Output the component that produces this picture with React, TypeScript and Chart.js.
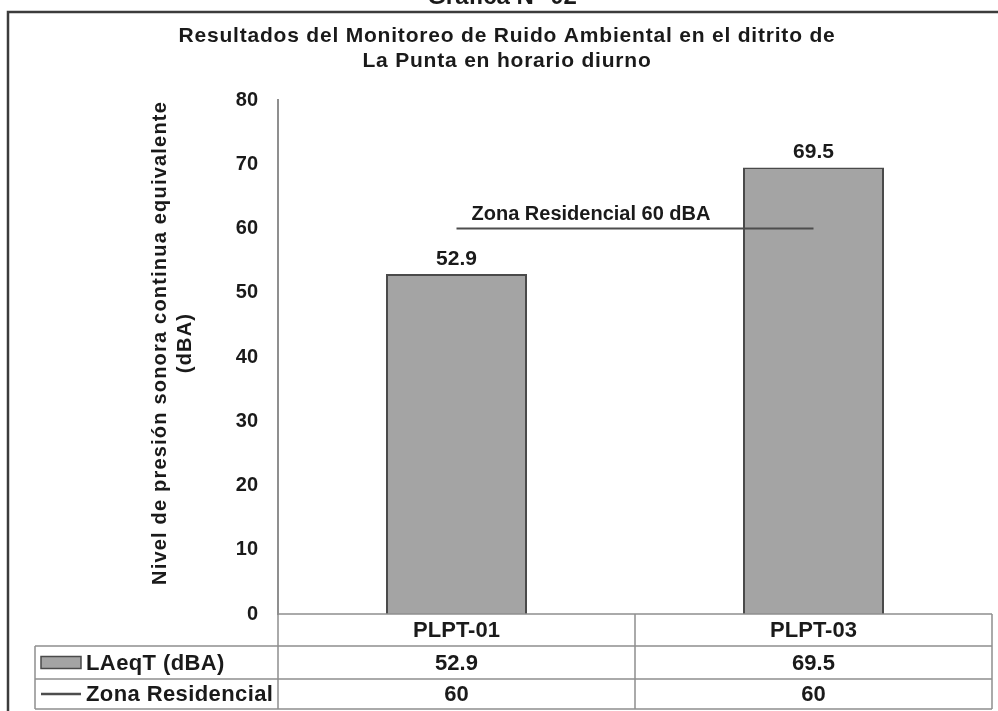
import React, { useEffect, useRef } from 'react';
import { Chart, registerables } from 'chart.js';

Chart.register(...registerables);

const categories = ['PLPT-01', 'PLPT-03'];
const laeqValues = [52.9, 69.5];
const limitValues = [60, 60];
const seriesNames = ['LAeqT (dBA)', 'Zona Residencial'];
const titleLines = ['Resultados del Monitoreo de Ruido Ambiental en el ditrito de', 'La Punta en horario diurno'];
const yTitleLines = ['Nivel de presión sonora continua equivalente', '(dBA)'];
const figureCaption = 'Gráfica N° 02';
const limitCaption = 'Zona Residencial 60 dBA';
const yMin = 0;
const yMax = 80;
const yStep = 10;

const FONT = '"Liberation Sans", Arial, Helvetica, sans-serif';
const BAR_FILL = '#a4a4a4';
const BAR_EDGE = '#4a4a4a';
const LINE_COLOR = '#4d4d4d';
const GRID_COLOR = '#8f8f8f';
const TEXT = '#1a1a1a';

const setSpacing = (ctx: any, px: number) => {
  if ('letterSpacing' in ctx) ctx.letterSpacing = `${px}px`;
};

const overlayPlugin = {
  id: 'overlay',
  afterDatasetsDraw(chart: any) {
    const { ctx, chartArea, scales } = chart;
    const xs = scales.x;
    ctx.save();

    // outer frame
    ctx.strokeStyle = '#3c3c3c';
    ctx.lineWidth = 2.5;
    ctx.beginPath();
    ctx.moveTo(8, 711);
    ctx.lineTo(8, 12);
    ctx.lineTo(998, 12);
    ctx.stroke();

    // figure caption (cut at top)
    ctx.fillStyle = TEXT;
    ctx.textAlign = 'center';
    ctx.textBaseline = 'alphabetic';
    ctx.font = `bold 24px ${FONT}`;
    ctx.fillText(figureCaption, 502, 4);

    // title
    ctx.font = `bold 21px ${FONT}`;
    setSpacing(ctx, 0.8);
    ctx.textBaseline = 'middle';
    titleLines.forEach((t, i) => ctx.fillText(t, 507, 36 + i * 25));

    // y axis title
    ctx.save();
    ctx.translate(160, 343);
    ctx.rotate(-Math.PI / 2);
    ctx.font = `bold 20px ${FONT}`;
    setSpacing(ctx, 1.2);
    yTitleLines.forEach((t, i) => ctx.fillText(t, 0, i * 25));
    ctx.restore();

    // data labels
    setSpacing(ctx, 0);
    const barMeta = chart.getDatasetMeta(0);
    ctx.font = `bold 21px ${FONT}`;
    ctx.textBaseline = 'alphabetic';
    barMeta.data.forEach((bar: any, i: number) => {
      ctx.fillText(laeqValues[i].toFixed(1), bar.x, bar.y - 9);
    });

    // limit line caption
    const lineMeta = chart.getDatasetMeta(1);
    const p0 = lineMeta.data[0];
    ctx.font = `bold 20px ${FONT}`;
    ctx.textAlign = 'left';
    ctx.fillText(limitCaption, p0.x + 15, p0.y - 9);

    // data table
    const top = chartArea.bottom;
    const rows = [top, top + 32, top + 65, top + 95];
    const tableLeft = 35;
    const right = chartArea.right;
    const n = categories.length;
    const colW = (chartArea.right - chartArea.left) / n;
    ctx.strokeStyle = GRID_COLOR;
    ctx.lineWidth = 1.5;
    ctx.beginPath();
    ctx.moveTo(chartArea.left, rows[0]);
    ctx.lineTo(right, rows[0]);
    for (let r = 1; r < rows.length; r++) {
      ctx.moveTo(tableLeft, rows[r]);
      ctx.lineTo(right, rows[r]);
    }
    ctx.moveTo(tableLeft, rows[1]);
    ctx.lineTo(tableLeft, rows[3]);
    for (let c = 0; c <= n; c++) {
      const xx = chartArea.left + c * colW;
      ctx.moveTo(xx, rows[0]);
      ctx.lineTo(xx, rows[3]);
    }
    ctx.stroke();

    ctx.fillStyle = TEXT;
    ctx.textAlign = 'center';
    ctx.textBaseline = 'middle';
    ctx.font = `bold 22px ${FONT}`;
    categories.forEach((c, i) => {
      const cx = xs.getPixelForValue(i);
      ctx.fillText(c, cx, (rows[0] + rows[1]) / 2 + 1);
      ctx.fillText(laeqValues[i].toFixed(1), cx, (rows[1] + rows[2]) / 2 + 1);
      ctx.fillText(String(limitValues[i]), cx, (rows[2] + rows[3]) / 2 + 1);
    });

    // legend keys
    const ky1 = (rows[1] + rows[2]) / 2;
    const ky2 = (rows[2] + rows[3]) / 2;
    ctx.fillStyle = BAR_FILL;
    ctx.fillRect(41, ky1 - 6, 40, 12);
    ctx.strokeStyle = BAR_EDGE;
    ctx.lineWidth = 1.5;
    ctx.strokeRect(41, ky1 - 6, 40, 12);
    ctx.strokeStyle = LINE_COLOR;
    ctx.lineWidth = 2.5;
    ctx.beginPath();
    ctx.moveTo(41, ky2);
    ctx.lineTo(81, ky2);
    ctx.stroke();

    ctx.fillStyle = TEXT;
    ctx.textAlign = 'left';
    ctx.font = `bold 22px ${FONT}`;
    setSpacing(ctx, 0.4);
    ctx.fillText(seriesNames[0], 86, ky1 + 1);
    ctx.fillText(seriesNames[1], 86, ky2 + 1);
    setSpacing(ctx, 0);

    ctx.restore();
  },
};

export default function App() {
  const ref = useRef<HTMLCanvasElement | null>(null);

  useEffect(() => {
    document.body.style.margin = '0';
    const canvas = ref.current;
    if (!canvas) return;
    const chart = new Chart(canvas, {
      type: 'bar',
      data: {
        labels: categories,
        datasets: [
          {
            type: 'bar',
            label: seriesNames[0],
            data: laeqValues,
            backgroundColor: BAR_FILL,
            borderColor: BAR_EDGE,
            borderWidth: 2,
            barPercentage: 0.395,
            categoryPercentage: 1,
            order: 2,
          },
          {
            type: 'line',
            label: seriesNames[1],
            data: limitValues,
            borderColor: LINE_COLOR,
            borderWidth: 2,
            pointRadius: 0,
            fill: false,
            order: 1,
          } as any,
        ],
      },
      options: {
        responsive: false,
        animation: false,
        layout: { padding: { top: 100, bottom: 97, left: 0, right: 6 } },
        plugins: {
          legend: { display: false },
          title: { display: false },
          tooltip: { enabled: false },
        },
        scales: {
          x: { display: false, offset: true },
          y: {
            min: yMin,
            max: yMax,
            ticks: {
              stepSize: yStep,
              padding: 20,
              color: TEXT,
              font: { family: FONT, size: 20, weight: 'bold' },
            },
            grid: { display: false, drawTicks: false },
            border: { display: true, color: GRID_COLOR, width: 2 },
            afterFit: (s: any) => {
              s.width = 278;
            },
          },
        },
      },
      plugins: [overlayPlugin],
    });
    return () => chart.destroy();
  }, []);

  return (
    <div style={{ width: 998, height: 711, background: '#fff' }}>
      <canvas ref={ref} width={998} height={711} style={{ display: 'block' }} />
    </div>
  );
}
